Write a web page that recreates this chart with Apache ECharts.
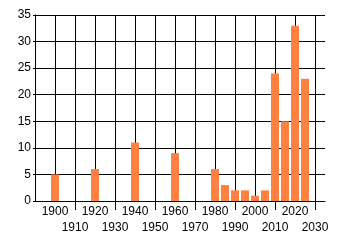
<!DOCTYPE html>
<html><head><meta charset="utf-8">
<script src="https://cdn.jsdelivr.net/npm/echarts@6/dist/echarts.min.js"></script>
<style>html,body{margin:0;padding:0;background:#fff}#c{width:340px;height:245px}</style>
</head><body><div id="c"></div>
<script>
const categories = ['1890','1895','1900','1905','1910','1915','1920','1925','1930','1935','1940','1945','1950','1955','1960','1965','1970','1975','1980','1985','1990','1995','2000','2005','2010','2015','2020','2025','2030','2035'];
const barYears = ['1900','1920','1940','1960','1980','1985','1990','1995','2000','2005','2010','2015','2020','2025'];
const barValues = [5, 6, 11, 9, 6, 3, 2, 2, 1, 2, 24, 15, 33, 23];
const yTicks = [0, 35, 5];

const data = barYears.map((y, i) => [categories.indexOf(y), barValues[i]]);
const isDecade = (v) => Number(v) % 10 === 0;
const inRange = (v) => Number(v) >= 1900 && Number(v) <= 2030;
const labelFont = {color: '#000', fontFamily: 'Liberation Sans', fontSize: 12};
const chart = echarts.init(document.getElementById('c'), null, {renderer: 'canvas'});
chart.setOption({
  animation: false,
  grid: {left: 35, top: 15, right: 15, bottom: 44},
  xAxis: [{
    type: 'category', data: categories, boundaryGap: false, position: 'bottom',
    axisLine: {lineStyle: {color: '#000', width: 1}},
    axisTick: {show: true, length: 9, interval: (i, v) => Number(v) % 20 === 10 && inRange(v), lineStyle: {color: '#000'}},
    splitLine: {show: true, interval: (i, v) => isDecade(v), lineStyle: {color: '#000', width: 1}},
    axisLabel: Object.assign({
      interval: (i, v) => Number(v) % 20 === 0 && inRange(v),
      showMinLabel: true, showMaxLabel: true, margin: 5
    }, labelFont)
  }, {
    type: 'category', data: categories, boundaryGap: false, position: 'bottom', offset: 0,
    axisLine: {show: false}, axisTick: {show: false}, splitLine: {show: false},
    axisLabel: Object.assign({
      interval: (i, v) => Number(v) % 20 === 10 && inRange(v),
      showMinLabel: true, showMaxLabel: true, margin: 21
    }, labelFont)
  }],
  yAxis: {
    type: 'value', min: yTicks[0], max: yTicks[1], interval: yTicks[2],
    axisLine: {show: true, lineStyle: {color: '#000'}},
    axisTick: {show: true, length: 2, lineStyle: {color: '#000'}},
    splitLine: {show: true, lineStyle: {color: '#000', width: 1}},
    axisLabel: Object.assign({margin: 4}, labelFont)
  },
  series: [{
    type: 'bar', data: data, barWidth: 8, xAxisIndex: 0,
    itemStyle: {color: '#FF8040'}
  }]
});
</script></body></html>
